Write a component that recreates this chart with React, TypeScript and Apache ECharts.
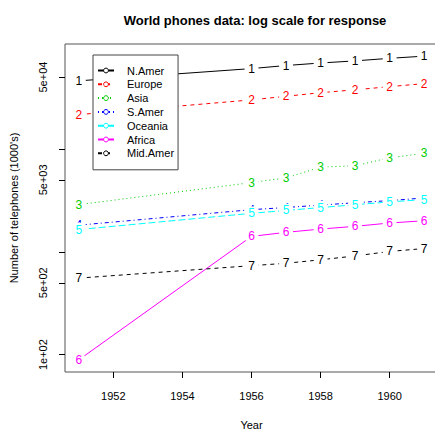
import React, { useEffect, useRef } from "react";
import * as echarts from "echarts";

const years = [1951, 1956, 1957, 1958, 1959, 1960, 1961];
const regions = ["N.Amer", "Europe", "Asia", "S.Amer", "Oceania", "Africa", "Mid.Amer"];
const nAmer = [45939, 60423, 64721, 68484, 71799, 76036, 79831];
const europe = [21574, 29990, 32510, 35218, 37598, 40341, 43173];
const asia = [2876, 4708, 5230, 6662, 6856, 8220, 9053];
const sAmer = [1815, 2568, 2695, 2845, 3000, 3145, 3338];
const oceania = [1646, 2366, 2526, 2691, 2868, 3054, 3224];
const africa = [89, 1411, 1546, 1663, 1769, 1905, 2005];
const midAmer = [555, 733, 773, 836, 911, 1008, 1076];
const seriesValues = [nAmer, europe, asia, sAmer, oceania, africa, midAmer];
const xTicks = [1952, 1954, 1956, 1958, 1960];
const yTicks = [100, 500, 1000, 5000, 10000, 50000];
const yTickLabels: Record<number, string> = { 100: "1e+02", 500: "5e+02", 5000: "5e+03", 50000: "5e+04" };

const colors = ["#000000", "#FF0000", "#00CD00", "#0000FF", "#00FFFF", "#FF00FF", "#000000"];
const dashes: any[] = ["solid", [4, 4], [1, 3], [1, 3, 4, 3], [7, 3], "solid", [4, 4]];

export default function App() {
  const ref = useRef<HTMLDivElement>(null);
  useEffect(() => {
    const chart = echarts.init(ref.current!, null, { renderer: "svg" });
    const all = seriesValues.flat();
    const lo = Math.log10(Math.min(...all));
    const hi = Math.log10(Math.max(...all));
    const pad = 0.04 * (hi - lo);
    const yMinL = lo - pad;
    const yMaxL = hi + pad;
    const xPad = 0.04 * (years[years.length - 1] - years[0]);
    const font = "Liberation Sans, Arial, sans-serif";
    chart.setOption({
      animation: false,
      backgroundColor: "#fff",
      textStyle: { fontFamily: font },
      title: {
        text: "World phones data: log scale for response",
        left: 250,
        top: 9,
        textAlign: "center",
        textStyle: { fontSize: 13, fontWeight: "bold", color: "#000", fontFamily: font },
      },
      grid: {
        left: 62,
        top: 44,
        width: 376,
        height: 334,
        show: true,
        borderColor: "#555",
        borderWidth: 1,
        containLabel: false,
      },
      legend: {
        left: 93,
        top: 55,
        orient: "vertical",
        itemWidth: 16,
        itemHeight: 6,
        itemGap: 0.8,
        padding: [9, 4, 10, 4],
        borderColor: "#444",
        borderWidth: 1,
        backgroundColor: "#fff",
        textStyle: { fontSize: 11, color: "#000", fontFamily: font, padding: [0, 0, 0, 8], height: 13, lineHeight: 13 },
        data: regions.map((r, i) => ({
          name: r,
          itemStyle: { color: "#fff", borderColor: colors[i], borderWidth: 1 },
        })),
      },
      xAxis: {
        type: "value",
        min: years[0] - xPad,
        max: years[years.length - 1] + xPad,
        name: "Year",
        nameLocation: "middle",
        nameGap: 47,
        nameTextStyle: { fontSize: 11, color: "#000", fontFamily: font },
        axisLine: { show: false },
        splitLine: { show: false },
        axisTick: { show: true, length: 6, lineStyle: { color: "#000" }, customValues: xTicks },
        axisLabel: {
          customValues: xTicks,
          fontSize: 11,
          color: "#000",
          margin: 18,
          fontFamily: font,
          formatter: (v: number) => String(Math.round(v)),
        },
      },
      yAxis: [
        {
          type: "log",
          logBase: 10,
          position: "left",
          min: Math.pow(10, yMinL),
          max: Math.pow(10, yMaxL),
          show: false,
          splitLine: { show: false },
        },
        {
          type: "value",
          position: "left",
          offset: 0,
          min: yMinL,
          max: yMaxL,
          name: "Number of telephones (1000's)",
          nameLocation: "middle",
          nameGap: 46,
          nameTextStyle: { fontSize: 11, color: "#000", fontFamily: font },
          axisLine: { show: false },
          splitLine: { show: false },
          axisTick: { show: true, length: 6, lineStyle: { color: "#000" }, customValues: yTicks.map((v) => Math.log10(v)) },
          axisLabel: {
            customValues: yTicks.map((v) => Math.log10(v)),
            rotate: 90,
            fontSize: 11,
            color: "#000",
            margin: 17,
            fontFamily: font,
            formatter: (v: number) => yTickLabels[Math.round(Math.pow(10, v))] || "",
          },
        },
      ],
      series: regions.map((r, i) => ({
        name: r,
        type: "line",
        yAxisIndex: 0,
        data: years.map((y, j) => [y, seriesValues[i][j]]),
        symbol: "circle",
        symbolSize: 14,
        itemStyle: { color: "#fff", borderWidth: 0 },
        lineStyle: { color: colors[i], width: 1, type: dashes[i] },
        label: {
          show: true,
          position: "inside",
          formatter: String(i + 1),
          color: colors[i],
          fontSize: 12,
          fontFamily: font,
        },
        emphasis: { disabled: true },
        z: 2 + i,
      })),
    });
    return () => chart.dispose();
  }, []);
  return <div ref={ref} style={{ position: "fixed", left: 0, top: 0, width: 445, height: 435 }} />;
}
